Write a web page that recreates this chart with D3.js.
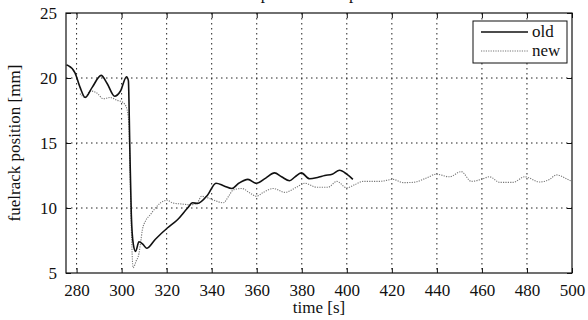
<!DOCTYPE html>
<html>
<head>
<meta charset="utf-8">
<script src="https://cdn.jsdelivr.net/npm/d3@7"></script>
<style>
  html, body { margin: 0; padding: 0; background: #fff; }
  svg { display: block; }
</style>
</head>
<body>
<svg id="chart" width="588" height="320" font-family="'Liberation Serif', 'Times New Roman', serif"></svg>
<script>
// Fuel rack position, old vs new controller
const oldTime = [275.5, 276.3, 279.3, 281.5, 283.8, 287, 290.9, 293.5, 296.9, 299.5, 302.2, 303.0, 303.6, 304.3, 305.2, 306.2, 307.7, 309.5, 311.1, 315, 320.3, 324.8, 329.3, 331.5, 333.7, 338.2, 341.9, 345.5, 349, 352, 356.1, 359.8, 364, 367.9, 371, 374.6, 377, 379.8, 383.5, 387, 390.2, 393.5, 396.8, 400, 402.7];
const oldValue = [21.0, 20.95, 20.4, 19.3, 18.5, 19.3, 20.2, 19.6, 18.6, 19.0, 20.1, 19.8, 15.0, 9.5, 7.2, 6.66, 7.4, 7.2, 6.9, 7.6, 8.46, 9.1, 10.0, 10.4, 10.35, 11.0, 11.9, 11.7, 11.5, 11.9, 12.2, 11.9, 12.3, 12.7, 12.4, 12.1, 12.4, 12.7, 12.25, 12.35, 12.5, 12.6, 12.9, 12.6, 12.2];

const newTime = [281.5, 283.8, 286, 289, 291.9, 294.8, 297.8, 300.7, 302.2, 303.2, 303.7, 304.3, 305.1, 306.4, 307.7, 308.4, 309.2, 310.6, 312.8, 315, 317.3, 320.3, 322.5, 326.9, 330.6, 333.6, 335.5, 338, 341.7, 345.2, 347.5, 349.6, 353.4, 357, 359.9, 362.9, 367.4, 372.5, 377.7, 381.4, 386.6, 391.7, 395.5, 400, 403.6, 407.2, 414.6, 420.5, 425, 429.4, 435.3, 439.7, 445.6, 450.8, 455.3, 459.7, 463.4, 467.9, 473.8, 479, 485.7, 490, 493.1, 497, 499.8];
const newValue = [18.8, 18.5, 19.0, 18.85, 18.4, 18.5, 18.3, 18.1, 17.7, 16.5, 13.0, 8.5, 5.4, 5.9, 6.5, 7.3, 8.3, 9.0, 9.5, 10.0, 10.4, 10.6, 10.4, 10.3, 10.25, 10.4, 10.9, 10.8, 10.55, 10.4, 10.9, 11.4, 11.5, 11.15, 10.9, 11.2, 11.5, 11.2, 11.6, 11.9, 11.6, 11.6, 12.05, 11.55, 11.8, 12.05, 12.05, 12.2, 11.95, 11.97, 12.3, 12.6, 12.4, 12.8, 12.05, 12.2, 12.4, 11.97, 11.97, 12.4, 12.0, 12.2, 12.55, 12.3, 12.05];

const xTicks = [280, 300, 320, 340, 360, 380, 400, 420, 440, 460, 480, 500];
const yTicks = [5, 10, 15, 20, 25];
const seriesNames = ["old", "new"];

const FONT = "'Liberation Serif', 'Times New Roman', serif";
const FS = 17;

const svg = d3.select("#chart");
const margin = { left: 66, right: 16, top: 13, bottom: 47 };
const W = 588, H = 320;

const x = d3.scaleLinear().domain([275.3, 500]).range([margin.left, W - margin.right]);
const y = d3.scaleLinear().domain([5, 25]).range([H - margin.bottom, margin.top]);

// title (sits above the top edge; only its descenders reach the page)
svg.append("text")
  .attr("x", 300).attr("y", -1)
  .attr("text-anchor", "middle")
  .attr("font-size", FS).attr("font-family", FONT).attr("fill", "#111")
  .text("fuelrack position comparison");

// dotted grid
const grid = svg.append("g").attr("stroke", "#222").attr("stroke-width", 1)
  .attr("stroke-dasharray", "1.5,3.5");
grid.selectAll("line.gx").data(xTicks.filter(d => d < 500)).join("line")
  .attr("class", "gx")
  .attr("x1", d => x(d)).attr("x2", d => x(d))
  .attr("y1", y(25)).attr("y2", y(5));
grid.selectAll("line.gy").data(yTicks.filter(d => d > 5 && d < 25)).join("line")
  .attr("class", "gy")
  .attr("x1", x.range()[0]).attr("x2", x.range()[1])
  .attr("y1", d => y(d)).attr("y2", d => y(d));

// axes with inward ticks
const xAxis = d3.axisBottom(x).tickValues(xTicks).tickSizeInner(-5).tickSizeOuter(0).tickPadding(11);
const yAxis = d3.axisLeft(y).tickValues(yTicks).tickSizeInner(-5).tickSizeOuter(0).tickPadding(9);

const gx = svg.append("g").attr("transform", `translate(0,${y(5)})`).call(xAxis);
const gy = svg.append("g").attr("transform", `translate(${x.range()[0]},0)`).call(yAxis);
// mirrored ticks on top and right
const gxTop = svg.append("g").attr("transform", `translate(0,${y(25)})`)
  .call(d3.axisTop(x).tickValues(xTicks).tickSizeInner(-5).tickSizeOuter(0).tickFormat(""));
const gyRight = svg.append("g").attr("transform", `translate(${x.range()[1]},0)`)
  .call(d3.axisRight(y).tickValues(yTicks).tickSizeInner(-5).tickSizeOuter(0).tickFormat(""));

[gx, gy, gxTop, gyRight].forEach(g => {
  g.attr("font-family", FONT).attr("font-size", FS);
  g.select(".domain").remove();
  g.selectAll(".tick line").attr("stroke", "#111");
  g.selectAll(".tick text").attr("fill", "#111");
});

// frame
svg.append("rect")
  .attr("x", x.range()[0]).attr("y", y(25))
  .attr("width", x.range()[1] - x.range()[0]).attr("height", y(5) - y(25))
  .attr("fill", "none").attr("stroke", "#111").attr("stroke-width", 1.2);

// curves
const line = d3.line().x(d => x(d[0])).y(d => y(d[1])).curve(d3.curveMonotoneX);
const newPts = newTime.map((t, i) => [t, newValue[i]]);
const oldPts = oldTime.map((t, i) => [t, oldValue[i]]);

svg.append("path").datum(newPts).attr("d", line)
  .attr("fill", "none").attr("stroke", "#777").attr("stroke-width", 1.1)
  .attr("stroke-dasharray", "1.2,1.2");
svg.append("path").datum(oldPts).attr("d", line)
  .attr("fill", "none").attr("stroke", "#111").attr("stroke-width", 1.6);

// axis labels
svg.append("text")
  .attr("x", (x.range()[0] + x.range()[1]) / 2).attr("y", 313)
  .attr("text-anchor", "middle").attr("font-size", FS).attr("font-family", FONT).attr("fill", "#111")
  .text("time [s]");
svg.append("text")
  .attr("transform", `translate(20,${(y(5) + y(25)) / 2}) rotate(-90)`)
  .attr("text-anchor", "middle").attr("font-size", FS).attr("font-family", FONT).attr("fill", "#111")
  .text("fuelrack position [mm]");

// legend
const lg = svg.append("g");
lg.append("rect").attr("x", 473).attr("y", 21).attr("width", 94).attr("height", 42)
  .attr("fill", "#fff").attr("stroke", "#111").attr("stroke-width", 1);
const legendStyles = [
  { stroke: "#111", width: 1.3, dash: null },
  { stroke: "#777", width: 1.1, dash: "1.2,1.2" }
];
seriesNames.forEach((name, i) => {
  const cy = 32 + i * 19;
  lg.append("line").attr("x1", 481).attr("x2", 528).attr("y1", cy).attr("y2", cy)
    .attr("stroke", legendStyles[i].stroke).attr("stroke-width", legendStyles[i].width)
    .attr("stroke-dasharray", legendStyles[i].dash);
  lg.append("text").attr("x", 532).attr("y", cy + 5)
    .attr("font-size", FS).attr("font-family", FONT).attr("fill", "#111").text(name);
});
</script>
</body>
</html>
